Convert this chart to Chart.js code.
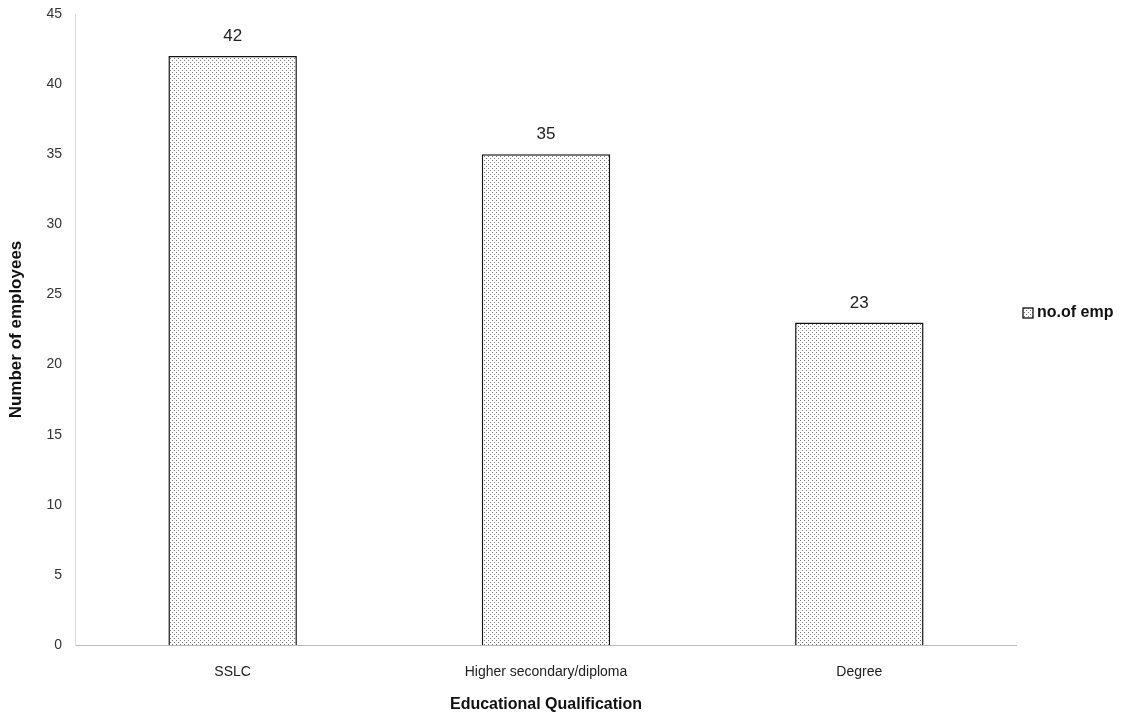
<!DOCTYPE html>
<html>
<head>
<meta charset="utf-8">
<script src="https://cdn.jsdelivr.net/npm/chart.js@4"></script>
<style>
  html, body { margin: 0; padding: 0; background: #fff; }
  #wrap { width: 1138px; height: 722px; }
</style>
</head>
<body>
<div id="wrap"><canvas id="chart" width="1138" height="722"></canvas></div>
<script>
const categories = ['SSLC', 'Higher secondary/diploma', 'Degree'];
const employees = [42, 35, 23];
const seriesName = 'no.of emp';
const yTicks = [0, 5, 10, 15, 20, 25, 30, 35, 40, 45];

const FONT = '"Liberation Sans", Arial, sans-serif';

// dotted fill like the printed bars
function dotPattern() {
  const c = document.createElement('canvas');
  c.width = 4; c.height = 4;
  const g = c.getContext('2d');
  g.fillStyle = '#fff';
  g.fillRect(0, 0, 4, 4);
  g.fillStyle = '#7a7a7a';
  g.fillRect(0, 0, 1, 1);
  g.fillRect(2, 2, 1, 1);
  return g.createPattern(c, 'repeat');
}
const fill = dotPattern();

// value labels above bars
const valueLabels = {
  id: 'valueLabels',
  afterDatasetsDraw(chart) {
    const ctx = chart.ctx;
    const meta = chart.getDatasetMeta(0);
    ctx.save();
    ctx.font = '17px ' + FONT;
    ctx.fillStyle = '#222';
    ctx.textAlign = 'center';
    ctx.textBaseline = 'bottom';
    meta.data.forEach((bar, i) => {
      ctx.fillText(employees[i], bar.x, bar.y - 11);
    });
    ctx.restore();
  }
};

// legend sits to the right, a bit above the middle
const sideLegend = {
  id: 'sideLegend',
  afterDraw(chart) {
    const ctx = chart.ctx;
    const ds = chart.data.datasets[0];
    const x = 1023, y = 313;
    ctx.save();
    ctx.fillStyle = fill;
    ctx.fillRect(x, y - 5, 10, 10);
    ctx.strokeStyle = '#111';
    ctx.lineWidth = 1.3;
    ctx.strokeRect(x, y - 5, 10, 10);
    ctx.font = 'bold 16px ' + FONT;
    ctx.fillStyle = '#111';
    ctx.textBaseline = 'middle';
    ctx.fillText(ds.label, x + 14, y);
    ctx.restore();
  }
};

const ctx = document.getElementById('chart').getContext('2d');
new Chart(ctx, {
  type: 'bar',
  data: {
    labels: categories,
    datasets: [{
      label: seriesName,
      data: employees,
      backgroundColor: fill,
      borderColor: '#111',
      borderWidth: 1.5,
      barPercentage: 0.41,
      categoryPercentage: 1
    }]
  },
  options: {
    responsive: false,
    animation: false,
    layout: { padding: { top: 14, left: 6, right: 122, bottom: 4 } },
    scales: {
      x: {
        afterFit(scale) { scale.height = 73; },
        grid: { display: false, drawTicks: false },
        border: { color: '#bbb', dash: [2, 3] },
        ticks: {
          color: '#222',
          padding: 19,
          font: { size: 14, family: FONT }
        },
        title: {
          display: true,
          text: 'Educational Qualification',
          color: '#111',
          padding: { top: 14, bottom: 4 },
          font: { size: 16, weight: 'bold', family: FONT }
        }
      },
      y: {
        min: 0,
        max: 45,
        afterBuildTicks(axis) {
          axis.ticks = yTicks.map(v => ({ value: v }));
        },
        afterFit(scale) { scale.paddingTop = 0; },
        grid: { display: false, drawTicks: false },
        border: { color: '#ddd', dash: [1, 6] },
        ticks: {
          color: '#333',
          padding: 14,
          font: { size: 14, family: FONT }
        },
        title: {
          display: true,
          text: 'Number of employees',
          color: '#111',
          padding: { top: 0, bottom: 6 },
          font: { size: 17, weight: 'bold', family: FONT }
        }
      }
    },
    plugins: {
      legend: { display: false },
      tooltip: { enabled: false }
    }
  },
  plugins: [valueLabels, sideLegend]
});
</script>
</body>
</html>
